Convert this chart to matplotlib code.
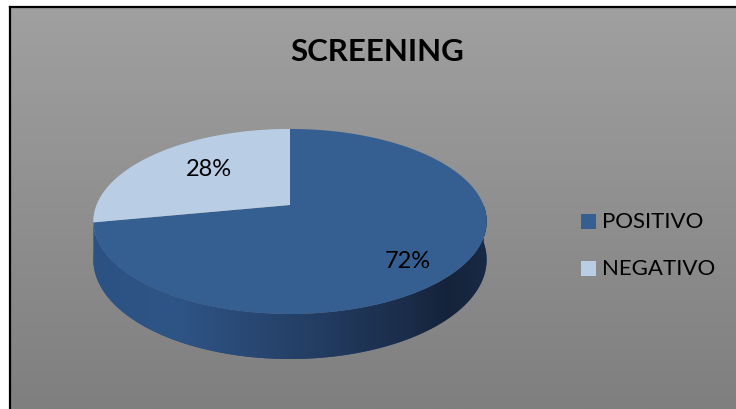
import numpy as np
import matplotlib
matplotlib.use("Agg")
import matplotlib.pyplot as plt
from matplotlib.patches import Polygon, Rectangle
from matplotlib.colors import LinearSegmentedColormap

# --- Daten ---
labels = ["POSITIVO", "NEGATIVO"]
values = [72, 28]
top_colors = ["#365F91", "#B9CDE5"]
side_colors = ["#2B4E7E", "#8FA6C4"]
title = "SCREENING"

FONT = "Lato"
W, H = 736, 410

# Geometrie der 3D-Torte (Pixel)
CX, CY = 290, 206          # projizierter Mittelpunkt
A, B = 193.5, 89.6         # Halbachsen
K = 0.178                  # Perspektive
D = 37                     # Tiefe

label_xy = [(408, 262), (209, 170)]


def proj(t, drop=0.0, r=1.0):
    u, v = r * np.cos(t), r * np.sin(t)
    s = 1.0 / (1.0 + K * v)
    return CX + A * u * s, CY - B * v * s + drop * s


fig = plt.figure(figsize=(W / 100, H / 100), dpi=100)
ax = fig.add_axes([0, 0, 1, 1])
ax.set_xlim(0, W)
ax.set_ylim(H, 0)
ax.axis("off")

# Hintergrund mit Verlauf
grad = np.linspace(0, 1, 256).reshape(-1, 1)
bg_cmap = LinearSegmentedColormap.from_list("bg", ["#a0a0a0", "#7f7f7f"])
ax.imshow(grad, cmap=bg_cmap, extent=[10, W, H, 8], aspect="auto", zorder=0)
ax.plot([10, 10], [H, 8], color="black", lw=1.6, zorder=1, solid_capstyle="projecting")
ax.plot([10, W], [8, 8], color="black", lw=1.6, zorder=1, solid_capstyle="projecting")

# Winkel: Start oben, im Uhrzeigersinn
total = sum(values)
bounds = []
start = 90.0
for v in values:
    end = start - v / total * 360.0
    bounds.append((start, end))
    start = end

side_cmap = LinearSegmentedColormap.from_list(
    "side",
    [(0.0, "#2C5284"), (0.2, "#2F5587"), (0.55, "#243E64"),
     (0.8, "#1A2C49"), (0.9, "#15233A"), (1.0, "#192A45")])
xgrad = np.linspace(0, 1, 512).reshape(1, -1)

# Seitenflächen
for (t1, t2), col in zip(bounds, side_colors):
    ts = np.radians(np.linspace(t1, t2, 400))
    ts = ts[np.sin(ts) <= 0]
    if len(ts) < 2:
        continue
    xt, yt = proj(ts)
    xb, yb = proj(ts[::-1], drop=D)
    poly = Polygon(np.column_stack([np.r_[xt, xb], np.r_[yt, yb]]),
                   closed=True, facecolor=col, edgecolor="none", zorder=2)
    ax.add_patch(poly)
    if col == side_colors[0]:
        im = ax.imshow(xgrad, cmap=side_cmap, extent=[CX - A * 1.02, CX + A * 1.02, 380, 150],
                       aspect="auto", zorder=2.5)
        im.set_clip_path(poly)

# Deckfläche
for (t1, t2), col in zip(bounds, top_colors):
    ts = np.radians(np.linspace(t1, t2, 400))
    xs, ys = proj(ts)
    pts = np.column_stack([np.r_[CX, xs], np.r_[CY, ys]])
    ax.add_patch(Polygon(pts, closed=True, facecolor=col, edgecolor="none", zorder=3))

# Prozentbeschriftungen
for v, (lx, ly) in zip(values, label_xy):
    ax.text(lx, ly, f"{v / total * 100:.0f}%", ha="center", va="center",
            fontsize=17, family=FONT, color="black", zorder=4)

# Titel
ax.text(377, 52, title, ha="center", va="center", fontsize=22.5,
        fontweight="bold", family=FONT, color="black", zorder=4)

# Legende
for i, (lab, col) in enumerate(zip(labels, top_colors)):
    y = 222.5 + i * 47
    ax.add_patch(Rectangle((581, y - 7.5), 15, 15, facecolor=col, edgecolor="none", zorder=4))
    ax.text(602, y, lab, ha="left", va="center", fontsize=16, family=FONT,
            color="black", zorder=4)

fig.savefig("out.png", dpi=100)
